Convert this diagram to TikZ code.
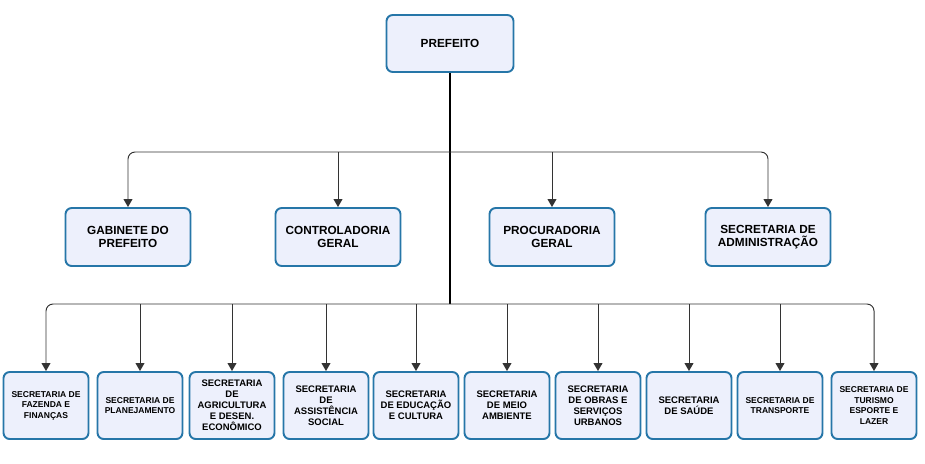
\documentclass[tikz,border=0pt]{standalone}
\usepackage{fontspec}
\setmainfont{Liberation Sans}
\usetikzlibrary{arrows.meta}
\definecolor{boxline}{RGB}{38,118,168}
\definecolor{boxfill}{RGB}{237,240,252}

\begin{document}
\begin{tikzpicture}[
        x=0.02cm, y=-0.02cm,
        box/.style={draw=boxline,fill=boxfill,line width=1.1pt,rounded corners=3.5pt,align=center,inner sep=1pt},
        headbox/.style={box,minimum width=2.54cm,minimum height=1.14cm,font=\fontsize{6.7}{7.2}\selectfont\bfseries},
        unitbox/.style={box,minimum width=2.5cm,minimum height=1.16cm,font=\fontsize{6.7}{7}\selectfont\bfseries},
        secbox/.style={box,minimum width=1.7cm,minimum height=1.34cm,font=\fontsize{5.4}{6.2}\selectfont\bfseries},
        smallsec/.style={secbox,font=\fontsize{4.85}{6}\selectfont\bfseries},
        trunk/.style={line width=1.1pt,black},
        link/.style={line width=0.55pt,black!80,-{Triangle[length=4.5pt,width=5pt]}},
        outer/.style={link,rounded corners=4pt}
    ]
        \useasboundingbox (0,0) rectangle (925,463);

        % Define the nodes
        \node[headbox] (pref) at (450,43.5) {PREFEITO};

        \node[unitbox] (gab) at (128,237) {GABINETE DO\\PREFEITO};
        \node[unitbox] (ctrl) at (338,237) {CONTROLADORIA\\GERAL};
        \node[unitbox] (proc) at (552,237) {PROCURADORIA\\GERAL};
        \node[unitbox] (adm) at (768,237) {SECRETARIA DE\\ADMINISTRAÇÃO};

        \node[smallsec] (fin) at (46,405.5) {SECRETARIA DE\\FAZENDA E\\FINANÇAS};
        \node[smallsec] (plan) at (140,405.5) {SECRETARIA DE\\PLANEJAMENTO};
        \node[secbox] (agr) at (232,405.5) {SECRETARIA\\DE\\AGRICULTURA\\E DESEN.\\ECONÔMICO};
        \node[secbox] (assist) at (326,405.5) {SECRETARIA\\DE\\ASSISTÊNCIA\\SOCIAL};
        \node[secbox] (edu) at (416,405.5) {SECRETARIA\\DE EDUCAÇÃO\\E CULTURA};
        \node[secbox] (meio) at (507,405.5) {SECRETARIA\\DE MEIO\\AMBIENTE};
        \node[secbox] (obras) at (598,405.5) {SECRETARIA\\DE OBRAS E\\SERVIÇOS\\URBANOS};
        \node[secbox] (saude) at (689,405.5) {SECRETARIA\\DE SAÚDE};
        \node[smallsec] (transp) at (780,405.5) {SECRETARIA DE\\TRANSPORTE};
        \node[smallsec] (tur) at (874,405.5) {SECRETARIA DE\\TURISMO\\ESPORTE E\\LAZER};

        % Bus points
        \coordinate (upbus) at (450,152);
        \coordinate (lowbus) at (450,304);

        % Draw the connectors
        \draw[trunk] (pref) -- (lowbus);
        \draw[outer] (upbus) -| (gab.north);
        \draw[outer] (upbus) -| (adm.north);
        \foreach \n in {ctrl,proc}
            \draw[link] (\n.north |- upbus) -- (\n.north);
        \draw[outer] (lowbus) -| (fin.north);
        \draw[outer] (lowbus) -| (tur.north);
        \foreach \n in {plan,agr,assist,edu,meio,obras,saude,transp}
            \draw[link] (\n.north |- lowbus) -- (\n.north);
    \end{tikzpicture}
\end{document}
